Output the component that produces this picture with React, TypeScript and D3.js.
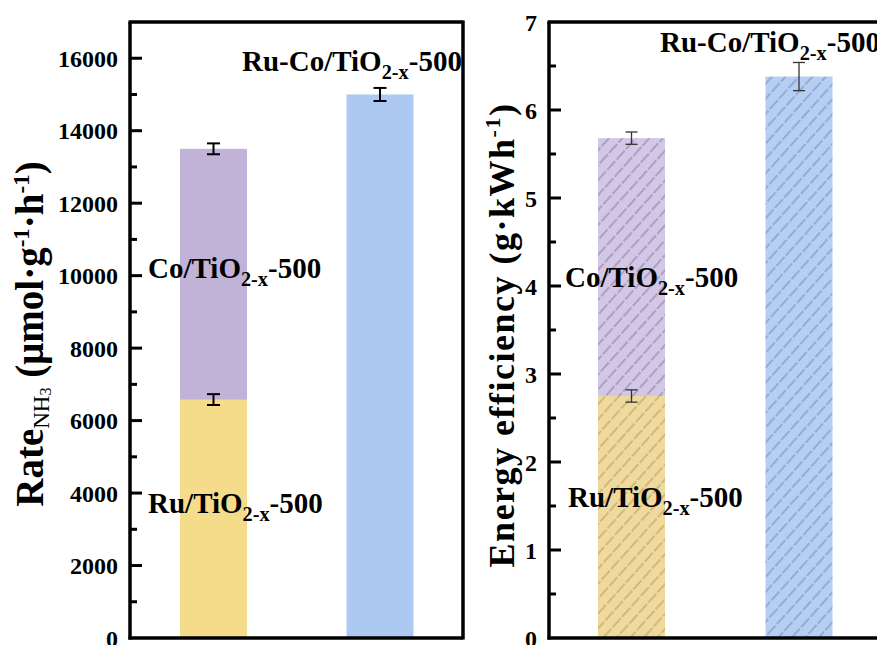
import React from "react";
import * as d3 from "d3";

// ---------- data ----------
const barGroups = ["Ru/Co", "Ru-Co"];
const seriesNames = ["Co/TiO2-x-500", "Ru/TiO2-x-500", "Ru-Co/TiO2-x-500"];
const seriesGroup = ["Ru/Co", "Ru/Co", "Ru-Co"];
const rateValues = [13500, 6580, 15000];
const rateErrors = [150, 150, 180];
const effValues = [5.68, 2.75, 6.38];
const effErrors = [0.07, 0.07, 0.16];
const rateTicks = [0, 2000, 4000, 6000, 8000, 10000, 12000, 14000, 16000];
const rateMinor = [1000, 3000, 5000, 7000, 9000, 11000, 13000, 15000];
const effTicks = [0, 1, 2, 3, 4, 5, 6, 7];
const effMinor = [0.5, 1.5, 2.5, 3.5, 4.5, 5.5, 6.5];
const leftColors = ["#C1B2D7", "#F5DC8A", "#ADC8F1"];
const rightColors = ["#D2C7E4", "#F0D99D", "#B7CEF3"];
const hatchColors = ["#6E5E92", "#9A8248", "#5670A8"];

const FONT = "'Liberation Serif', 'Times New Roman', serif";

const W = 877;
const H = 645;
const top = 22;
const bottom = 638;
const L = { x0: 130, x1: 463 };
const R = { x0: 549, x1: 900 };
const barW = 67;

const yL = d3.scaleLinear().domain([0, 17000]).range([bottom, top]);
const yR = d3.scaleLinear().domain([0, 7]).range([bottom, top]);
const xL = d3.scalePoint<string>().domain(barGroups).range([213.5, 380]);
const xR = d3.scalePoint<string>().domain(barGroups).range([631.5, 799]);

function Label({ x, y, main, sub, tail, size = 29 }: any) {
  return (
    <text x={x} y={y} fontFamily={FONT} fontWeight="bold" fontSize={size} fill="#000">
      {main}
      <tspan fontSize={size * 0.7} dy={8}>{sub}</tspan>
      <tspan dy={-8}>{tail}</tspan>
    </text>
  );
}

function Frame({ x0, x1 }: any) {
  return (
    <g>
      <line x1={x0} x2={x0} y1={top} y2={bottom + 1.5} stroke="#000" strokeWidth={3.5} />
      <line x1={x0 - 1.5} x2={x1} y1={top} y2={top} stroke="#000" strokeWidth={3.5} />
      <line x1={x0 - 1.5} x2={x1} y1={bottom} y2={bottom} stroke="#000" strokeWidth={3.5} />
      {x1 < W && <line x1={x1} x2={x1} y1={top - 1.5} y2={bottom + 1.5} stroke="#000" strokeWidth={3.5} />}
    </g>
  );
}

function ErrorBar({ cx, y0, y1, w, color, sw }: any) {
  return (
    <g stroke={color} strokeWidth={sw}>
      <line x1={cx} x2={cx} y1={y0} y2={y1} />
      <line x1={cx - w / 2} x2={cx + w / 2} y1={y0} y2={y0} />
      <line x1={cx - w / 2} x2={cx + w / 2} y1={y1} y2={y1} />
    </g>
  );
}

export default function App() {
  return (
    <div style={{ position: "absolute", left: 0, top: 0, width: W, height: H, overflow: "hidden", background: "#fff" }}>
      <svg width={W} height={H} style={{ display: "block" }}>
        <defs>
          {hatchColors.map((c, i) => (
            <pattern key={i} id={`hatch${i}`} patternUnits="userSpaceOnUse" width={14} height={10} patternTransform="rotate(-48)">
              <rect width={14} height={10} fill={rightColors[i]} />
              <line x1={0} x2={14} y1={5} y2={5} stroke={c} strokeWidth={0.9} strokeDasharray="12 2" opacity={0.85} />
            </pattern>
          ))}
        </defs>

        {/* ---------- left panel ---------- */}
        {seriesNames.map((s, i) => (
          <rect key={s} x={xL(seriesGroup[i])! - barW / 2} width={barW} y={yL(rateValues[i])} height={yL(0) - yL(rateValues[i])} fill={leftColors[i]} />
        ))}
        {seriesNames.map((s, i) => (
          <ErrorBar key={s} cx={xL(seriesGroup[i])} y0={yL(rateValues[i] + rateErrors[i])} y1={yL(rateValues[i] - rateErrors[i])} w={13} color="#000" sw={2} />
        ))}
        <Frame x0={L.x0} x1={L.x1} />
        {rateTicks.map((t) => (
          <g key={t}>
            {t > 0 && <line x1={L.x0} x2={L.x0 + 12} y1={yL(t)} y2={yL(t)} stroke="#000" strokeWidth={3} />}
            <text x={118} y={yL(t)} dy="0.36em" textAnchor="end" fontFamily={FONT} fontWeight="bold" fontSize={24}>{t}</text>
          </g>
        ))}
        {rateMinor.map((t) => (
          <line key={t} x1={L.x0} x2={L.x0 + 7} y1={yL(t)} y2={yL(t)} stroke="#000" strokeWidth={3} />
        ))}
        <text transform={`translate(43,334) rotate(-90)`} textAnchor="middle" fontFamily={FONT} fontWeight="bold" fontSize={39}>
          Rate<tspan fontSize={23} dy={6} fontWeight="normal">NH</tspan><tspan fontSize={16} dy={2} fontWeight="normal">3</tspan>
          <tspan dy={-8}> (μmol·g</tspan><tspan fontSize={23} dy={-14}>-1</tspan><tspan dy={14}>·h</tspan><tspan fontSize={23} dy={-14}>-1</tspan><tspan dy={14}>)</tspan>
        </text>
        <Label x={242} y={71} main="Ru-Co/TiO" sub="2-x" tail="-500" />
        <Label x={148} y={278} main="Co/TiO" sub="2-x" tail="-500" />
        <Label x={148} y={513} main="Ru/TiO" sub="2-x" tail="-500" />

        {/* ---------- right panel ---------- */}
        {seriesNames.map((s, i) => (
          <rect key={s} x={xR(seriesGroup[i])! - barW / 2} width={barW} y={yR(effValues[i])} height={yR(0) - yR(effValues[i])} fill={`url(#hatch${i})`} />
        ))}
        {seriesNames.map((s, i) => (
          <ErrorBar key={s} cx={xR(seriesGroup[i])} y0={yR(effValues[i] + effErrors[i])} y1={yR(effValues[i] - effErrors[i])} w={12} color="#333" sw={1.3} />
        ))}
        <Frame x0={R.x0} x1={R.x1} />
        {effTicks.map((t) => (
          <g key={t}>
            {t > 0 && t < 7 && <line x1={R.x0} x2={R.x0 + 12} y1={yR(t)} y2={yR(t)} stroke="#000" strokeWidth={3} />}
            <text x={537} y={yR(t)} dy="0.36em" textAnchor="end" fontFamily={FONT} fontWeight="bold" fontSize={24}>{t}</text>
          </g>
        ))}
        {effMinor.map((t) => (
          <line key={t} x1={R.x0} x2={R.x0 + 7} y1={yR(t)} y2={yR(t)} stroke="#000" strokeWidth={3} />
        ))}
        <text transform={`translate(514,335) rotate(-90)`} textAnchor="middle" fontFamily={FONT} fontWeight="bold" fontSize={36} letterSpacing={1.5}>
          Energy efficiency (g·kWh<tspan fontSize={22} dy={-14}>-1</tspan><tspan dy={14}>)</tspan>
        </text>
        <Label x={660} y={52} main="Ru-Co/TiO" sub="2-x" tail="-500" />
        <Label x={565} y={287} main="Co/TiO" sub="2-x" tail="-500" />
        <Label x={568} y={507} main="Ru/TiO" sub="2-x" tail="-500" />
      </svg>
    </div>
  );
}
